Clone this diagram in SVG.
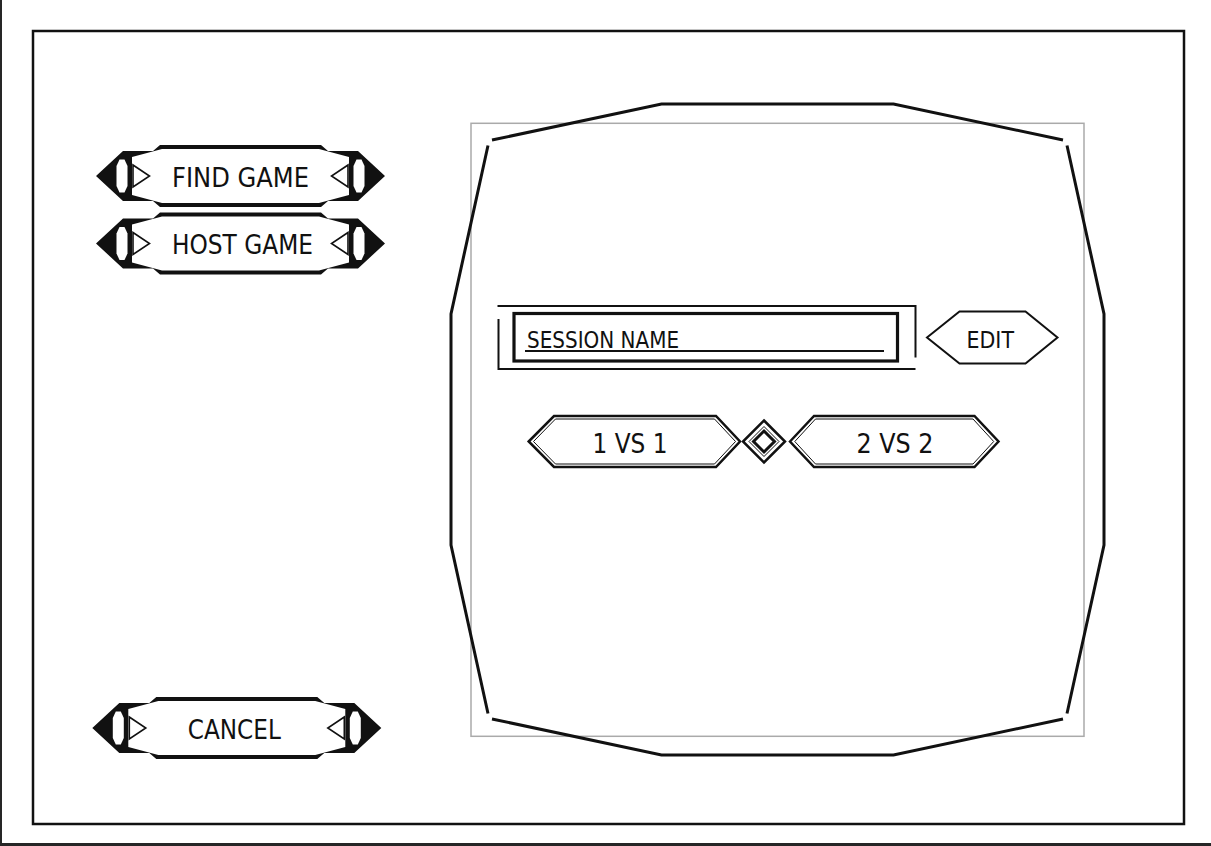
<svg xmlns="http://www.w3.org/2000/svg" xmlns:xlink="http://www.w3.org/1999/xlink" width="1211" height="846" viewBox="0 0 1211 846">
<style>
.lbl{font-family:"DejaVu Sans","Liberation Sans",sans-serif;fill:#111;}
.panel{fill:none;stroke:#111;stroke-width:3;stroke-linejoin:miter;}
.thin{fill:none;stroke:#111;stroke-width:1;}
.hexo{fill:#fff;stroke:#111;stroke-width:2.5;}
</style>
<defs>
<g id="half">
<polygon points="-107.5,-11 -91,0 -107.5,11" fill="#fff" stroke="#111" stroke-width="1.6"/>
</g>
<g id="banner">
<polygon fill="#111" points="-144.5,0 -117.5,-25 -87.5,-25 -80.5,-31 80.5,-31 87.5,-25 117.5,-25 144.5,0 117.5,25 87.5,25 80.5,31 -80.5,31 -87.5,25 -117.5,25"/>
<polygon fill="#fff" points="-108.5,-19 -78.5,-27 78.5,-27 108.5,-19 108.5,19 78.5,27 -78.5,27 -108.5,19"/>
<polygon fill="#fff" points="-121,-16.5 -116,-16.5 -113,-10 -113,10 -116,16.5 -121,16.5 -124,10 -124,-10"/>
<polygon fill="#fff" points="121,-16.5 116,-16.5 113,-10 113,10 116,16.5 121,16.5 124,10 124,-10"/>
<use xlink:href="#half"/>
<use xlink:href="#half" transform="scale(-1,1)"/>
</g>
</defs>
<rect x="0" y="0" width="1211" height="846" fill="#fff"/>
<rect x="0" y="0" width="2" height="846" fill="#262626"/>
<rect x="0" y="843" width="1211" height="3" fill="#262626"/>
<rect x="33" y="31" width="1151" height="793" fill="none" stroke="#111" stroke-width="2.5"/>

<g id="btn-find-game" transform="translate(240.5,176)">
<use xlink:href="#banner"/>
<text class="lbl" x="-68.5" y="10.5" font-size="27" textLength="137" lengthAdjust="spacingAndGlyphs">FIND GAME</text>
</g>
<g id="btn-host-game" transform="translate(240.5,243.5)">
<use xlink:href="#banner"/>
<text class="lbl" x="-68.5" y="10.5" font-size="27" textLength="141" lengthAdjust="spacingAndGlyphs">HOST GAME</text>
</g>
<g id="btn-cancel" transform="translate(236.8,728)">
<use xlink:href="#banner"/>
<text class="lbl" x="-49" y="11" font-size="27" textLength="93" lengthAdjust="spacingAndGlyphs">CANCEL</text>
</g>

<g id="panel">
<rect x="471" y="123.3" width="613" height="613" fill="none" stroke="#aaa" stroke-width="1.5"/>
<polyline class="panel" points="492,140 661.5,104 893.5,104 1063,140"/>
<polyline class="panel" points="1067,145.5 1104,314 1104,545 1067,713.5"/>
<polyline class="panel" points="1063,719 893.5,755 661.5,755 492,719"/>
<polyline class="panel" points="488,713.5 451,545 451,314 488,145.5"/>
</g>

<g id="session-name">
<polyline fill="none" stroke="#111" stroke-width="2" points="497.5,306 915.5,306 915.5,357.5"/>
<polyline fill="none" stroke="#111" stroke-width="2" points="498.5,319 498.5,369 915.5,369"/>
<rect x="514" y="313.5" width="383.5" height="47.5" fill="none" stroke="#111" stroke-width="3.2"/>
<line x1="525" y1="351" x2="884" y2="351" stroke="#111" stroke-width="2"/>
<text class="lbl" x="527" y="347.5" font-size="23.5" textLength="152" lengthAdjust="spacingAndGlyphs">SESSION NAME</text>
</g>

<g id="btn-edit">
<polygon points="927,337.5 959.5,311.5 1025.5,311.5 1057.5,337.5 1025.5,363.5 959.5,363.5" fill="#fff" stroke="#111" stroke-width="2"/>
<text class="lbl" x="966.5" y="347.5" font-size="23" textLength="47.5" lengthAdjust="spacingAndGlyphs">EDIT</text>
</g>

<g id="btn-1vs1">
<polygon class="hexo" points="528.7,441.5 554,416 716,416 740,441.5 716,467 554,467"/>
<polygon class="thin" points="533.5,441.5 555.5,419 714.5,419 735.5,441.5 714.5,464 555.5,464"/>
<text class="lbl" x="592.5" y="452.5" font-size="26.5" textLength="75" lengthAdjust="spacingAndGlyphs">1 VS 1</text>
</g>

<g id="mode-toggle">
<polygon points="764,420.5 785,441.5 764,462.5 743,441.5" fill="#fff" stroke="#111" stroke-width="2.5"/>
<polygon points="764,426.5 779,441.5 764,456.5 749,441.5" fill="none" stroke="#111" stroke-width="1"/>
<polygon points="764,431 774.5,441.5 764,452 753.5,441.5" fill="#fff" stroke="#111" stroke-width="3"/>
</g>

<g id="btn-2vs2">
<polygon class="hexo" points="790,441.5 814,416 974.5,416 998.5,441.5 974.5,467 814,467"/>
<polygon class="thin" points="794.8,441.5 815.5,419 973,419 993.7,441.5 973,464 815.5,464"/>
<text class="lbl" x="856.5" y="452.5" font-size="26.5" textLength="77" lengthAdjust="spacingAndGlyphs">2 VS 2</text>
</g>

<g id="connectors"></g>
</svg>
